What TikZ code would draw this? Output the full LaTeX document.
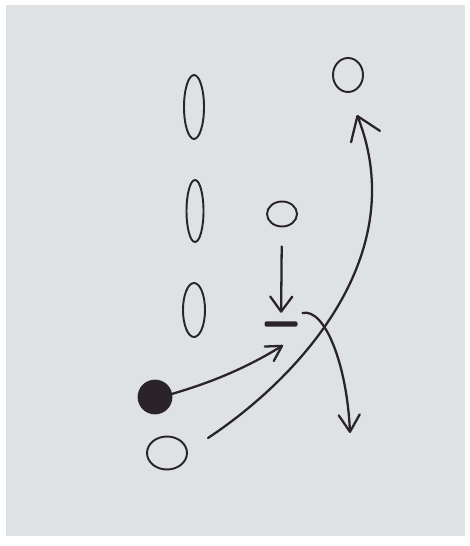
\documentclass[tikz,border=0pt]{standalone}
\usetikzlibrary{shapes.geometric,arrows.meta,calc}
\definecolor{paper}{RGB}{222,226,229}
\definecolor{ink}{RGB}{42,36,42}
\begin{document}
\begin{tikzpicture}[x=0.02cm,y=-0.02cm,
  pen/.style={draw=ink, line width=1.1pt},
  oval/.style={pen, ellipse, inner sep=0pt, outer sep=0pt},
  bar/.style={rectangle, fill=ink, rounded corners=1.2pt, minimum width=0.66cm, minimum height=0.11cm, inner sep=0pt, outer sep=0pt},
  spot/.style={circle, fill=ink, draw=ink, line width=1pt, minimum size=0.66cm, inner sep=0pt, outer sep=0pt},
  conn/.style={draw=ink, line width=1.3pt, line cap=round},
  headbig/.style={-{Straight Barb[length=0.44cm,width=0.62cm,round]}},
  headmid/.style={-{Straight Barb[length=0.30cm,width=0.44cm,round]}},
  headsmall/.style={-{Straight Barb[length=0.30cm,width=0.34cm,round]}},
  headdown/.style={-{Straight Barb[length=0.34cm,width=0.42cm,round]}}]
\useasboundingbox (0,0) rectangle (469,546);
\fill[white] (0,0) rectangle (469,546);
\fill[paper] (6,5) rectangle (465,536);
% nodes
\node[oval, minimum width=0.40cm, minimum height=1.28cm] (e1) at (194,107) {};
\node[oval, minimum width=0.34cm, minimum height=1.24cm] (e2) at (195,211) {};
\node[oval, minimum width=0.44cm, minimum height=1.08cm] (e3) at (194,310) {};
\node[oval, minimum width=0.60cm, minimum height=0.68cm] (tr) at (348,75) {};
\node[oval, minimum width=0.60cm, minimum height=0.50cm] (mid) at (282,214) {};
\node[bar] (dash) at (281,324) {};
\node[spot] (dot) at (155,397) {};
\node[oval, minimum width=0.80cm, minimum height=0.66cm] (bl) at (167,453) {};
\coordinate (dend) at (350,433);
% connectors
\draw[conn, headmid, shorten <=0.4cm, shorten >=0.17cm] (mid) -- (dash);
\draw[conn, headsmall] (dot.10) .. controls (213,382) and (248,367) .. ($(dash.south)+(2,18.5)$);
\draw[conn, headbig] ($(bl.east)+(21,-15)$) .. controls +(92,-61) and +(55,140) .. ($(tr.south)+(9,23)$);
\draw[conn, headdown] ($(dash.east)+(5,-11)$) .. controls (325,308) and (347,365) .. (dend);
\end{tikzpicture}
\end{document}
